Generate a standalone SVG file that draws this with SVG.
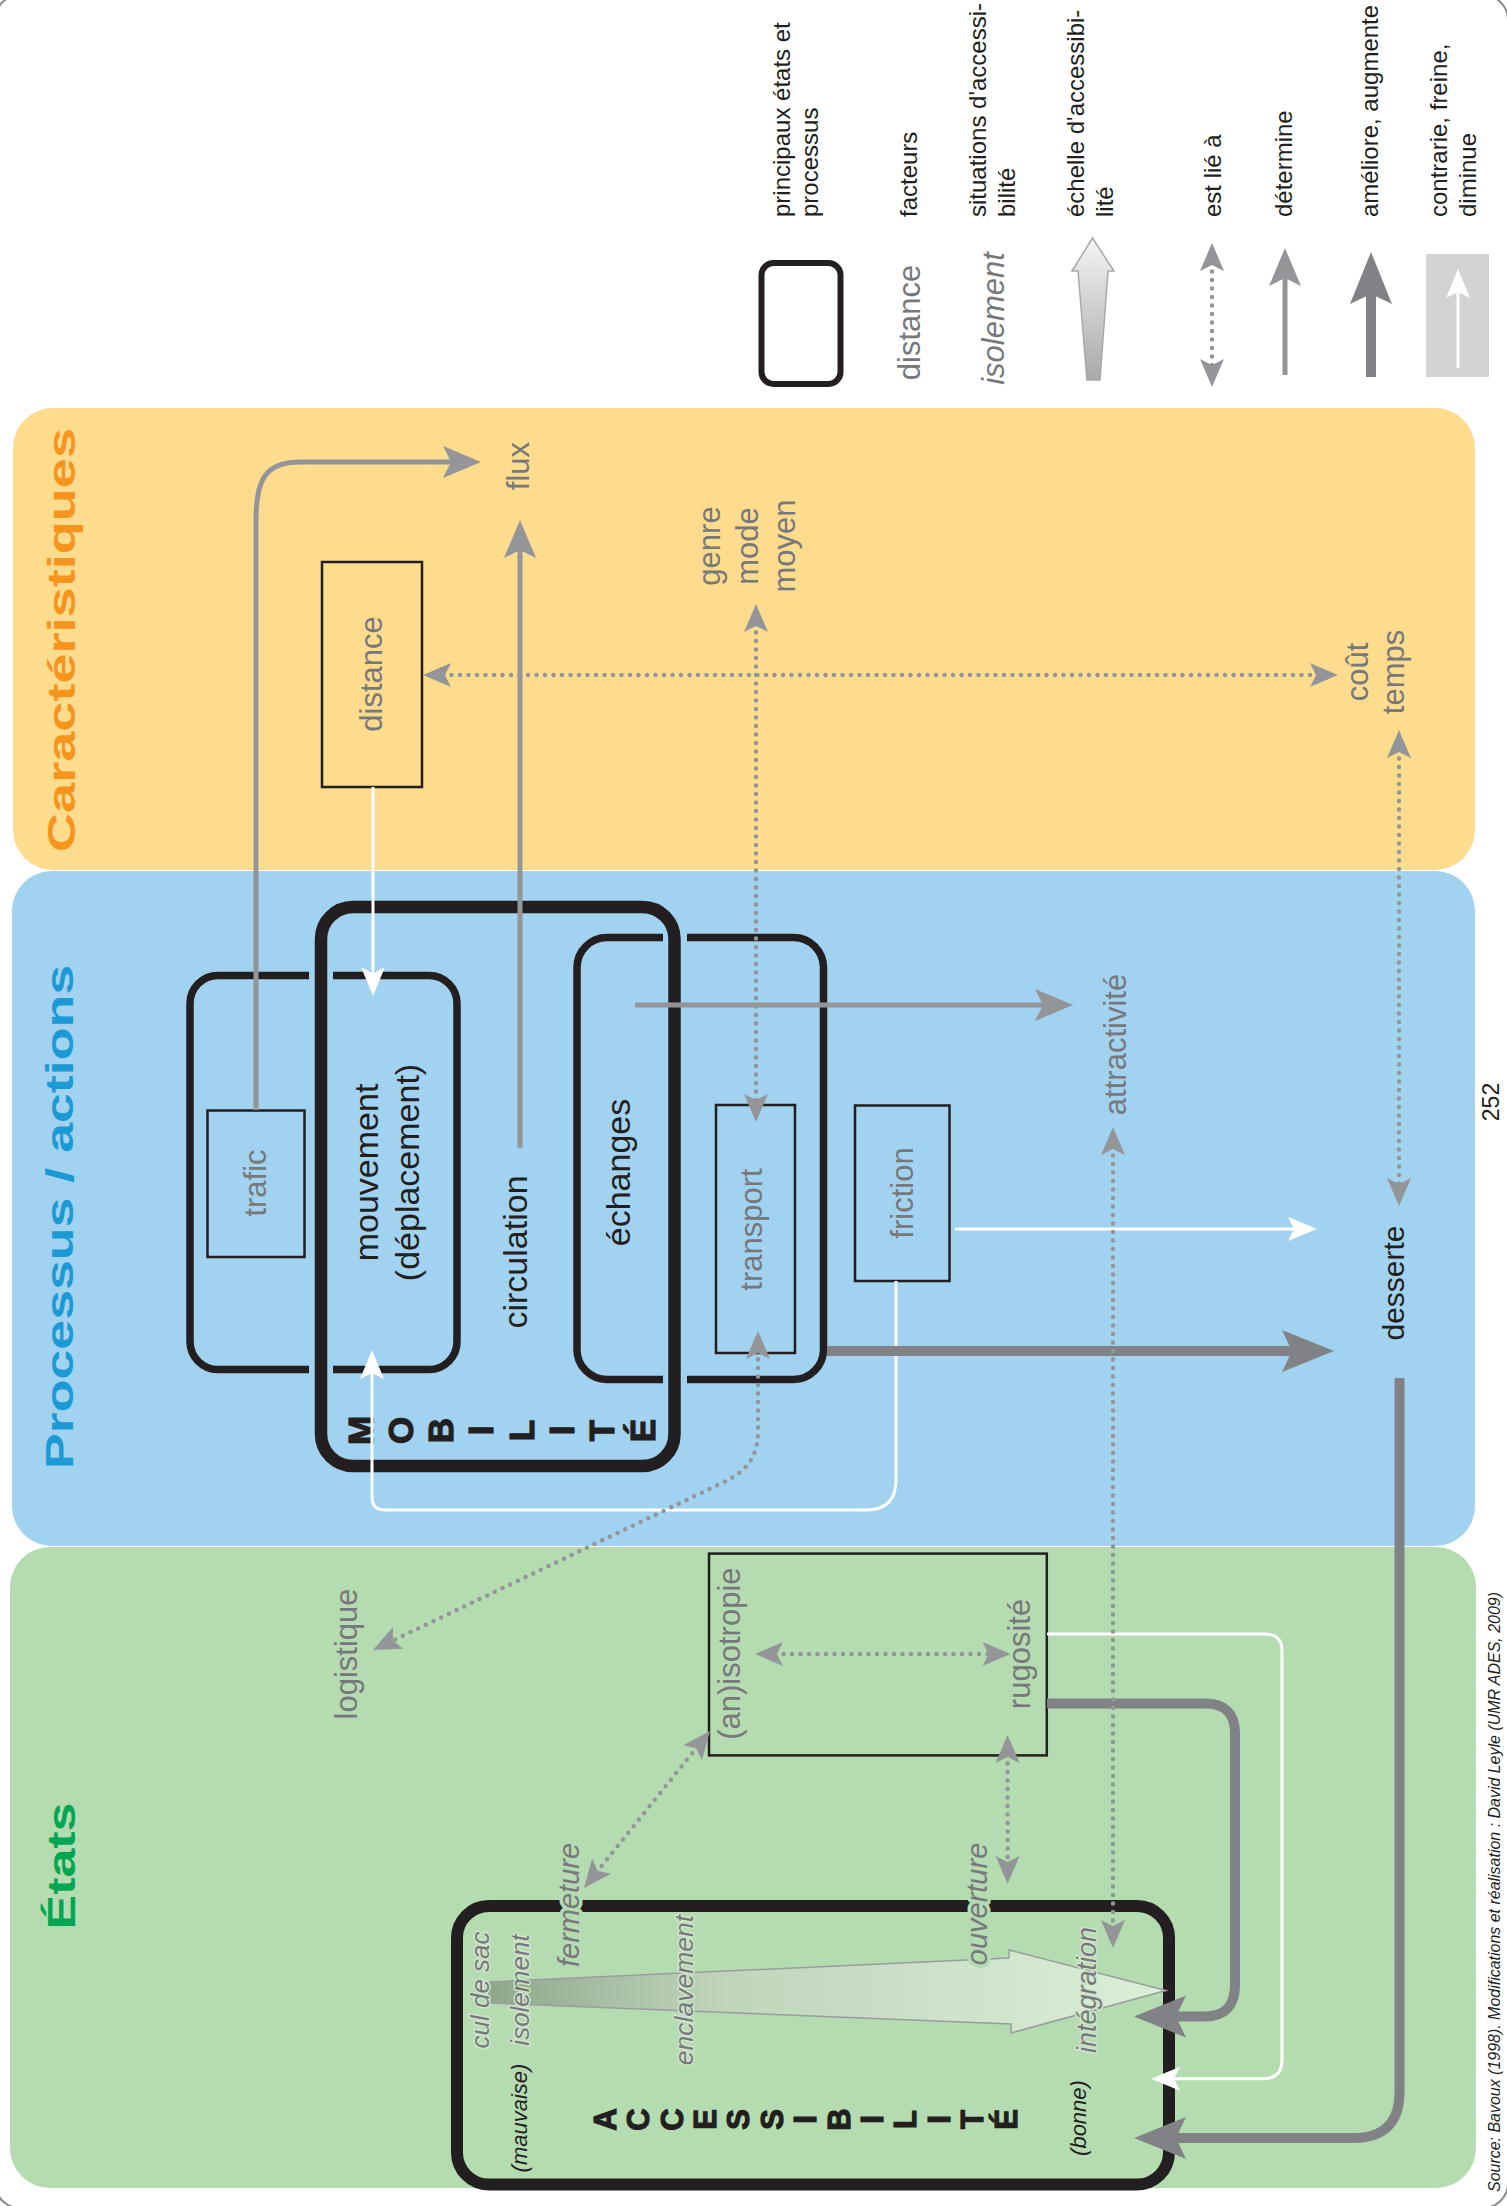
<svg xmlns="http://www.w3.org/2000/svg" width="1507" height="2206" viewBox="0 0 1507 2206">
<style>
text{font-family:"Liberation Sans",Arial,sans-serif}
.g{fill:#77787B;font-size:31px}
.k{fill:#231F20;font-size:34px}
.lg{fill:#231F20;font-size:24px}
.it{font-style:italic}
.b{font-weight:bold}
.m{text-anchor:middle}
.ln{fill:none;stroke:#939598;stroke-width:5}
.dk{fill:none;stroke:#808285;stroke-width:10}
.wh{fill:none;stroke:#fff;stroke-width:3}
.dt{fill:none;stroke:#939598;stroke-width:4.5;stroke-dasharray:0 8.5;stroke-linecap:round}
.box{fill:none;stroke:#231F20;stroke-width:2.5}
.thick{fill:none;stroke:#231F20}
.halo{paint-order:stroke;stroke:#B5DBB0;stroke-width:7px;stroke-linejoin:round}
.halo2{paint-order:stroke;stroke:#CFE6CB;stroke-width:3px;stroke-linejoin:round}
.heavy{stroke:#231F20;stroke-width:1.2px}
</style>
<defs>
<marker id="aG" markerUnits="userSpaceOnUse" orient="auto" overflow="visible" refX="0" refY="0"><path d="M30,0 L-8,-16 L0,0 L-8,16 Z" fill="#939598"/></marker>
<marker id="aD" markerUnits="userSpaceOnUse" orient="auto" overflow="visible" refX="0" refY="0"><path d="M42,0 L-10,-21 L0,0 L-10,21 Z" fill="#808285"/></marker>
<marker id="aW" markerUnits="userSpaceOnUse" orient="auto" overflow="visible" refX="0" refY="0"><path d="M23,0 L-6,-12 L0,0 L-6,12 Z" fill="#fff"/></marker>
<marker id="aT" markerUnits="userSpaceOnUse" orient="auto-start-reverse" overflow="visible" refX="0" refY="0"><path d="M20,0 L-8,-12 L-2,0 L-8,12 Z" fill="#939598"/></marker>
<linearGradient id="gLeg" x1="0" y1="0" x2="0" y2="1"><stop offset="0" stop-color="#F4F4F4"/><stop offset="1" stop-color="#A7A9AC"/></linearGradient>
<linearGradient id="gAcc" x1="489" y1="0" x2="1166" y2="0" gradientUnits="userSpaceOnUse"><stop offset="0" stop-color="#8FA88C"/><stop offset="0.35" stop-color="#BFD6BB"/><stop offset="1" stop-color="#DCEFD8"/></linearGradient>
</defs>

<rect x="-5" y="-5" width="1513" height="2213" rx="25" fill="none" stroke="#8c8c8c" stroke-width="2"/>

<!-- bands -->
<g id="band-caracteristiques">
<rect x="13" y="408" width="1462" height="462" rx="40" fill="#FEDC8E"/>
<text class="b m" transform="translate(75,640) rotate(-90)" font-size="38" fill="#F7941D" textLength="424" lengthAdjust="spacingAndGlyphs">Caractéristiques</text>
</g>
<g id="band-processus">
<rect x="12" y="871" width="1463" height="675" rx="40" fill="#A1D2F0"/>
<text class="b m" transform="translate(73,1217) rotate(-90)" font-size="38" fill="#1B9AD6" textLength="504" lengthAdjust="spacingAndGlyphs">Processus / actions</text>
</g>
<g id="band-etats">
<rect x="10" y="1547" width="1466" height="641" rx="40" fill="#B5DBB0"/>
<text class="b m" transform="translate(75,1866) rotate(-90)" font-size="38" fill="#00A651" textLength="127" lengthAdjust="spacingAndGlyphs">États</text>
</g>

<!-- legend -->
<g id="legend">
<rect x="761.5" y="263" width="79" height="121" rx="12" class="thick" stroke-width="6"/>
<text class="g m" transform="translate(920,322.5) rotate(-90)" font-size="30">distance</text>
<text class="g m it" transform="translate(1004,318.5) rotate(-90)" font-size="29">isolement</text>
<polygon points="1092.5,238 1114,271 1108,271 1100,380 1087,380 1078,271 1072,271" fill="url(#gLeg)" stroke="#A7A9AC" stroke-width="1.5"/>
<path class="dt" d="M1212,263 V367" marker-start="url(#aT)" marker-end="url(#aT)"/>
<path class="ln" d="M1285,375 V278" marker-end="url(#aG)"/>
<path class="dk" d="M1371,377 V294" marker-end="url(#aD)"/>
<rect x="1426" y="254" width="63" height="123" fill="#D1D3D4"/>
<path class="wh" d="M1458,368 V292" marker-end="url(#aW)"/>
<text class="lg" transform="translate(790,217) rotate(-90)">principaux états et</text>
<text class="lg" transform="translate(818,217) rotate(-90)">processus</text>
<text class="lg" transform="translate(917,217) rotate(-90)">facteurs</text>
<text class="lg" transform="translate(986,217) rotate(-90)">situations d'accessi-</text>
<text class="lg" transform="translate(1015,217) rotate(-90)">bilité</text>
<text class="lg" transform="translate(1084,217) rotate(-90)">échelle d'accessibi-</text>
<text class="lg" transform="translate(1113,217) rotate(-90)">lité</text>
<text class="lg" transform="translate(1221,217) rotate(-90)">est lié à</text>
<text class="lg" transform="translate(1292,217) rotate(-90)">détermine</text>
<text class="lg" transform="translate(1378,217) rotate(-90)">améliore, augmente</text>
<text class="lg" transform="translate(1447,217) rotate(-90)">contrarie, freine,</text>
<text class="lg" transform="translate(1476,217) rotate(-90)">diminue</text>
</g>

<!-- Caractéristiques nodes -->
<g id="node-distance">
<rect x="322" y="562" width="100" height="225" class="box"/>
<text class="g m" transform="translate(382,674) rotate(-90)" font-size="30">distance</text>
</g>
<g id="node-flux"><text class="g m" transform="translate(529,466) rotate(-90)">flux</text></g>
<g id="node-genre">
<text class="g m" transform="translate(720,546) rotate(-90)">genre</text>
<text class="g m" transform="translate(758,546) rotate(-90)">mode</text>
<text class="g m" transform="translate(795,546) rotate(-90)">moyen</text>
</g>
<g id="node-cout">
<text class="g m" transform="translate(1368,672) rotate(-90)">coût</text>
<text class="g m" transform="translate(1404,672) rotate(-90)">temps</text>
</g>

<!-- Processus nodes -->
<g id="node-mouvement-group">
<rect x="190" y="975.5" width="267" height="394" rx="28" class="thick" stroke-width="7.5"/>
</g>
<g id="node-echanges-group">
<rect x="577" y="937.5" width="246.5" height="442" rx="30" class="thick" stroke-width="7.5"/>
</g>
<g id="gaps" fill="#A1D2F0">
<rect x="309" y="966" width="24" height="20"/>
<rect x="309" y="1360" width="24" height="20"/>
<rect x="663" y="928" width="24" height="20"/>
<rect x="663" y="1370" width="24" height="20"/>
</g>
<g id="node-mobilite">
<rect x="321" y="907" width="353.5" height="559" rx="32" class="thick" stroke-width="12.5"/>
<g class="b heavy" fill="#231F20" font-size="35" text-anchor="middle">
<text transform="translate(372.5,1430.5) rotate(-90)">M</text>
<text transform="translate(412.8,1430.5) rotate(-90)">O</text>
<text transform="translate(453.1,1430.5) rotate(-90)">B</text>
<text transform="translate(493.4,1430.5) rotate(-90)">I</text>
<text transform="translate(533.7,1430.5) rotate(-90)">L</text>
<text transform="translate(574,1430.5) rotate(-90)">I</text>
<text transform="translate(614.3,1430.5) rotate(-90)">T</text>
<text transform="translate(654.6,1430.5) rotate(-90)">É</text>
</g>
</g>
<g id="node-trafic">
<rect x="207.5" y="1110.5" width="97" height="146.5" class="box" stroke-width="2"/>
<text class="g m" transform="translate(266,1183) rotate(-90)" font-size="30">trafic</text>
</g>
<g id="node-mouvement">
<text class="k m" transform="translate(378,1172.5) rotate(-90)">mouvement</text>
<text class="k m" transform="translate(419,1172.5) rotate(-90)">(déplacement)</text>
</g>
<g id="node-circulation"><text class="k m" transform="translate(527,1252) rotate(-90)">circulation</text></g>
<g id="node-echanges"><text class="k m" transform="translate(630,1172.5) rotate(-90)">échanges</text></g>
<g id="node-transport">
<rect x="716" y="1105" width="79" height="248" class="box" stroke-width="2"/>
<text class="g m" transform="translate(762,1229.5) rotate(-90)">transport</text>
</g>
<g id="node-friction">
<rect x="855" y="1105.5" width="94.5" height="175.5" class="box" stroke-width="2"/>
<text class="g m" transform="translate(913,1193) rotate(-90)">friction</text>
</g>
<g id="node-attractivite"><text class="g m" transform="translate(1126,1044.5) rotate(-90)">attractivité</text></g>
<g id="node-desserte"><text class="m" fill="#231F20" font-size="30" transform="translate(1404,1283) rotate(-90)">desserte</text></g>
<text class="m" fill="#231F20" font-size="23" transform="translate(1499,1102) rotate(-90)">252</text>

<!-- États nodes -->
<g id="node-logistique"><text class="g m" transform="translate(357,1654) rotate(-90)">logistique</text></g>
<g id="node-isotropie">
<rect x="709" y="1553.6" width="337.8" height="201.8" class="box" stroke-width="2"/>
<text class="g m" transform="translate(740,1653.6) rotate(-90)">(an)isotropie</text>
<text class="g m" transform="translate(1030,1654) rotate(-90)">rugosité</text>
</g>
<g id="node-accessibilite">
<rect x="457" y="1906" width="712" height="278.5" rx="32" class="thick" stroke-width="12"/>
<polygon points="489,1982 1009,1958 1009,1950 1166,1990.5 1011,2033 1011,2024 489,2003" fill="url(#gAcc)" stroke="#9A9C9E" stroke-width="1.5"/>
<g class="g it" font-size="27">
<text class="m halo2" transform="translate(489,1990) rotate(-90)" font-size="26">cul de sac</text>
<text class="m halo2" transform="translate(529,1990) rotate(-90)" font-size="26">isolement</text>
<text class="m halo" transform="translate(579,1905) rotate(-90)" font-size="29">fermeture</text>
<text class="m halo2" transform="translate(693,1990) rotate(-90)" font-size="26.5">enclavement</text>
<text class="m halo" transform="translate(987,1904) rotate(-90)" font-size="29">ouverture</text>
<text class="m halo2" transform="translate(1096,1990) rotate(-90)" font-size="27">intégration</text>
</g>
<text class="it m" fill="#231F20" font-size="22" transform="translate(527,2118) rotate(-90)">(mauvaise)</text>
<text class="it m" fill="#231F20" font-size="22" transform="translate(1086,2118) rotate(-90)">(bonne)</text>
<g class="b heavy" fill="#231F20" font-size="31" text-anchor="middle">
<text transform="translate(615.7,2119.5) rotate(-90)">A</text>
<text transform="translate(649.1,2119.5) rotate(-90)">C</text>
<text transform="translate(682.5,2119.5) rotate(-90)">C</text>
<text transform="translate(715.9,2119.5) rotate(-90)">E</text>
<text transform="translate(749.3,2119.5) rotate(-90)">S</text>
<text transform="translate(782.7,2119.5) rotate(-90)">S</text>
<text transform="translate(816.1,2119.5) rotate(-90)">I</text>
<text transform="translate(849.5,2119.5) rotate(-90)">B</text>
<text transform="translate(882.9,2119.5) rotate(-90)">I</text>
<text transform="translate(916.3,2119.5) rotate(-90)">L</text>
<text transform="translate(949.7,2119.5) rotate(-90)">I</text>
<text transform="translate(983.1,2119.5) rotate(-90)">T</text>
<text transform="translate(1016.5,2119.5) rotate(-90)">É</text>
</g>
</g>

<text class="it" fill="#231F20" font-size="17" transform="translate(1500,2192) rotate(-90)" textLength="600" lengthAdjust="spacingAndGlyphs">Source: Bavoux (1998). Modifications et réalisation : David Leyle (UMR ADES, 2009)</text>

<!-- connectors -->
<g id="connectors">
<path class="ln" d="M256,1110 V520 C256,480 265,462 300,462 H451" marker-end="url(#aG)"/>
<path class="ln" d="M520,1148 V550" marker-end="url(#aG)"/>
<path class="ln" d="M635,1005 H1043" marker-end="url(#aG)"/>
<path class="wh" d="M373,787 V973" marker-end="url(#aW)"/>
<path class="wh" d="M955,1229 H1294" marker-end="url(#aW)"/>
<path class="wh" d="M896,1281 V1480 Q896,1510 866,1510 H385 Q372,1510 372,1497 V1373" marker-end="url(#aW)"/>
<path class="wh" d="M1047,1634 H1265 Q1282,1634 1282,1651 V2060 Q1282,2078.7 1263,2078.7 H1174" marker-end="url(#aW)"/>
<path class="dk" d="M827,1351 H1292" marker-end="url(#aD)"/>
<path class="dk" d="M1399.5,1378 V2092 Q1399.5,2138 1353,2138 H1176" marker-end="url(#aD)"/>
<path class="dk" d="M1047,1703.6 H1205 Q1235,1703.6 1235,1733 V1985 Q1235,2016.6 1204,2016.6 H1176" marker-end="url(#aD)"/>
<path class="dt" d="M443,675 H1318" marker-start="url(#aT)" marker-end="url(#aT)"/>
<path class="dt" d="M756,624 V1102" marker-start="url(#aT)" marker-end="url(#aT)"/>
<path class="dt" d="M1399,750 V1186" marker-start="url(#aT)" marker-end="url(#aT)"/>
<path class="dt" d="M1113,1147 V1928" marker-start="url(#aT)" marker-end="url(#aT)"/>
<path class="dt" d="M758,1351 V1430 C758,1460 745,1472 720,1484 L391,1641.4" marker-start="url(#aT)" marker-end="url(#aT)"/>
<path class="dt" d="M775,1654 H990.5" marker-start="url(#aT)" marker-end="url(#aT)"/>
<path class="dt" d="M697.5,1746.6 L596.5,1872.4" marker-start="url(#aT)" marker-end="url(#aT)"/>
<path class="dt" d="M1007.6,1755 V1864" marker-start="url(#aT)" marker-end="url(#aT)"/>
</g>
</svg>
